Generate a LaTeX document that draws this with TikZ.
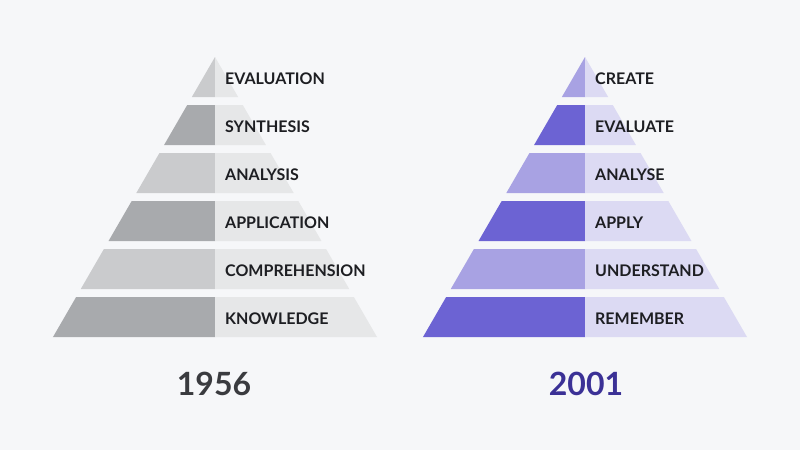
\documentclass[tikz,border=0pt]{standalone}
\usepackage{fontspec}
\setsansfont{Lato}
\usetikzlibrary{positioning}
\definecolor{pagebg}{HTML}{F6F7F9}
\definecolor{greyhi}{HTML}{A8AAAD}
\definecolor{greylo}{HTML}{CACBCD}
\definecolor{greyside}{HTML}{E6E7E8}
\definecolor{violhi}{HTML}{6C63D3}
\definecolor{viollo}{HTML}{A8A2E3}
\definecolor{violside}{HTML}{DCDAF3}
\definecolor{labelink}{HTML}{1D1E22}
\definecolor{oldink}{HTML}{3A3B3F}
\definecolor{newink}{HTML}{3B3196}
\tikzset{
  font=\sffamily\bfseries,
  tier/.style={font=\sffamily\bfseries\fontsize{16}{18}\selectfont,text=labelink,
               anchor=west,inner sep=0pt},
  year/.style={font=\sffamily\bfseries\fontsize{32}{36}\selectfont,inner sep=0pt},
}

\begin{document}
\begin{tikzpicture}[x=1pt,y=-1pt]
  \fill[pagebg] (0,0) rectangle (800,450);

  % ---- 1956 pyramid (apex at x=215) ----
  \foreach \i/\word/\shade in {1/EVALUATION/greylo,2/SYNTHESIS/greyhi,
      3/ANALYSIS/greylo,4/APPLICATION/greyhi,5/COMPREHENSION/greylo,6/KNOWLEDGE/greyhi}{
    \pgfmathsetmacro{\yb}{97+48*(\i-1)}
    \pgfmathsetmacro{\yt}{\yb-40}
    \pgfmathsetmacro{\wb}{(\yb-57)*0.5786}
    \pgfmathsetmacro{\wt}{(\yt-57)*0.5786}
    \fill[\shade] (215-\wt,\yt) -- (215,\yt) -- (215,\yb) -- (215-\wb,\yb) -- cycle;
    \fill[greyside] (215,\yt) -- (215+\wt,\yt) -- (215+\wb,\yb) -- (215,\yb) -- cycle;
    \node[tier] (old\i) at (225,\yb-18) {\word};
  }

  % ---- 2001 pyramid (apex at x=585) ----
  \foreach \i/\word/\shade in {1/CREATE/viollo,2/EVALUATE/violhi,
      3/ANALYSE/viollo,4/APPLY/violhi,5/UNDERSTAND/viollo,6/REMEMBER/violhi}{
    \pgfmathsetmacro{\yb}{97+48*(\i-1)}
    \pgfmathsetmacro{\yt}{\yb-40}
    \pgfmathsetmacro{\wb}{(\yb-57)*0.5786}
    \pgfmathsetmacro{\wt}{(\yt-57)*0.5786}
    \fill[\shade] (585-\wt,\yt) -- (585,\yt) -- (585,\yb) -- (585-\wb,\yb) -- cycle;
    \fill[violside] (585,\yt) -- (585+\wt,\yt) -- (585+\wb,\yb) -- (585,\yb) -- cycle;
    \node[tier] (new\i) at (595,\yb-18) {\word};
  }

  % years
  \node[year,text=oldink] (y1956) at (214,384) {1956};
  \node[year,text=newink] (y2001) at (586,384) {2001};
\end{tikzpicture}
\end{document}
